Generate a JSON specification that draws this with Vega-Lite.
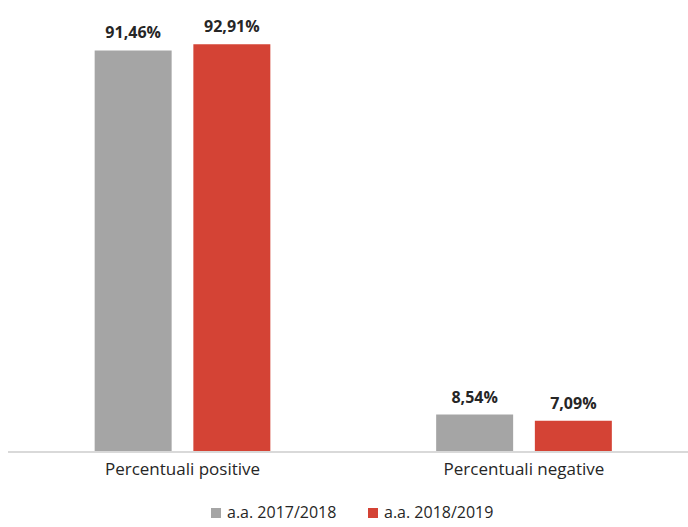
{
  "$schema": "https://vega.github.io/schema/vega-lite/v6.json",
  "width": 680,
  "height": 439,
  "padding": {"left": 8, "top": 13, "right": 0, "bottom": 75},
  "autosize": {"type": "none"},
  "background": "white",
  "data": {
    "values": [
      {"categoria": "Percentuali positive", "anno": "a.a. 2017/2018", "valore": 91.46, "etichetta": "91,46%"},
      {"categoria": "Percentuali positive", "anno": "a.a. 2018/2019", "valore": 92.91, "etichetta": "92,91%"},
      {"categoria": "Percentuali negative", "anno": "a.a. 2017/2018", "valore": 8.54, "etichetta": "8,54%"},
      {"categoria": "Percentuali negative", "anno": "a.a. 2018/2019", "valore": 7.09, "etichetta": "7,09%"}
    ]
  },
  "encoding": {
    "x": {
      "field": "categoria",
      "type": "nominal",
      "sort": ["Percentuali positive", "Percentuali negative"],
      "scale": {"paddingInner": 0, "paddingOuter": 0, "range": [3.75, 686.75]},
      "axis": {
        "title": null,
        "labelAngle": 0,
        "ticks": false,
        "domain": false,
        "labelFont": "Open Sans",
        "labelFontSize": 17,
        "labelColor": "#262626",
        "labelPadding": 9
      }
    },
    "xOffset": {
      "field": "anno",
      "type": "nominal",
      "scale": {"paddingInner": 0.22, "paddingOuter": 0.84}
    },
    "y": {
      "field": "valore",
      "type": "quantitative",
      "scale": {"domain": [0, 100]},
      "axis": null
    }
  },
  "layer": [
    {
      "mark": {"type": "bar"},
      "encoding": {
        "color": {
          "field": "anno",
          "type": "nominal",
          "scale": {"domain": ["a.a. 2017/2018", "a.a. 2018/2019"], "range": ["#a5a5a5", "#d44335"]},
          "legend": {
            "title": null,
            "orient": "none",
            "legendX": 200,
            "legendY": 492,
            "padding": 0,
            "direction": "horizontal",
            "symbolType": "square",
            "symbolSize": 100,
            "symbolOpacity": 1,
            "labelFont": "Open Sans",
            "labelFontSize": 16,
            "labelColor": "#262626",
            "columnPadding": 28,
            "symbolOffset": 0,
            "labelOffset": 3
          }
        }
      }
    },
    {
      "mark": {"type": "rule", "color": "#d9d9d9", "strokeWidth": 1.5},
      "encoding": {
        "x": {"value": 0},
        "x2": {"value": 680},
        "y": {"datum": 0},
        "xOffset": null,
        "color": null
      }
    },
    {
      "mark": {"type": "text", "dy": -17, "font": "Open Sans", "fontSize": 16, "fontWeight": "bold", "color": "#262626"},
      "encoding": {
        "text": {"field": "etichetta"}
      }
    }
  ],
  "config": {
    "view": {"stroke": null},
    "axis": {"grid": false}
  }
}
